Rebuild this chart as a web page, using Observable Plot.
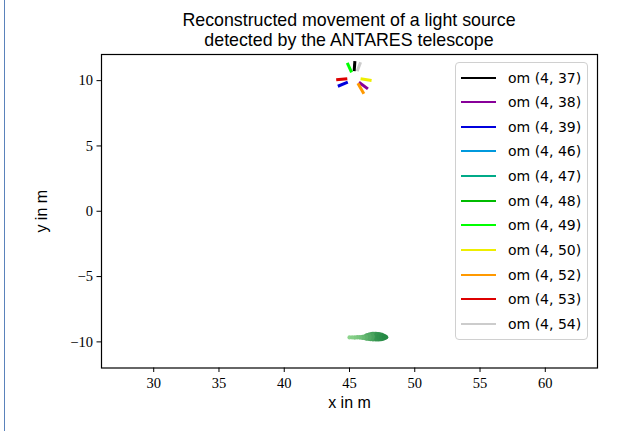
<!DOCTYPE html>
<html><head><meta charset="utf-8">
<script src="https://cdn.jsdelivr.net/npm/d3@7"></script>
<script src="https://cdn.jsdelivr.net/npm/@observablehq/plot@0.6"></script>
<style>
body{margin:0;background:#fff;}
#wrap{position:relative;width:623px;height:431px;overflow:hidden;}
#wrap svg{position:absolute;left:0;top:0;}
#wrap svg g[aria-label="x-axis tick label"] text,
#wrap svg g[aria-label="y-axis tick label"] text{font-family:"Liberation Serif",serif;font-size:14.5px;fill:#000;}
#wrap svg g[aria-label="x-axis label"] text,
#wrap svg g[aria-label="y-axis label"] text{font-family:"Liberation Sans",sans-serif;font-size:16px;fill:#000;}
.title{position:absolute;left:101px;width:496px;text-align:center;font-family:"Liberation Sans",sans-serif;font-size:17.8px;color:#000;line-height:20px;white-space:nowrap;}
.edge{position:absolute;left:3.5px;top:0;width:1.5px;height:431px;background:#5a82bb;}
.legend{position:absolute;left:455px;top:62px;width:133px;height:278px;border:1px solid #d0d0d0;border-radius:4px;background:rgba(255,255,255,0.85);box-sizing:border-box;}
.legend .sw{position:absolute;left:5px;width:35px;height:2px;}
.legend .lb{position:absolute;left:52px;font-family:"DejaVu Sans",sans-serif;font-size:14px;line-height:16px;color:#000;white-space:nowrap;}
</style></head><body><div id="wrap"></div><script>
// Series labels and colours (nipy_spectral samples)
const omLabels = ["om (4, 37)","om (4, 38)","om (4, 39)","om (4, 46)","om (4, 47)","om (4, 48)","om (4, 49)","om (4, 50)","om (4, 52)","om (4, 53)","om (4, 54)"];
const omColors = ["#000000","#880099","#0000dd","#0099dd","#00aa88","#00bb00","#00ff00","#eeee00","#ff9900","#dd0000","#cccccc"];
// Reconstructed direction segments per optical module (null = not visible)
const startX = [45.41, 45.72, 44.11, null, null, null, 44.83, 45.85, 45.64, 43.98, 45.85];
const startY = [11.49, 9.88, 9.57, null, null, null, 11.36, 10.14, 9.80, 10.06, 11.41];
const endX   = [45.36, 46.41, 44.87, null, null, null, 45.16, 46.69, 46.10, 44.83, 45.59];
const endY   = [10.72, 9.37, 9.88, null, null, null, 10.64, 10.01, 8.99, 10.14, 10.72];
// Light-source trail near the bottom
const trailX = [45.0, 45.2, 45.4, 45.6, 45.8, 46.0, 46.2, 46.4, 46.6, 46.8, 47.0, 47.2, 47.4, 47.55, 47.7, 47.82];
const trailY = [-9.66, -9.66, -9.66, -9.65, -9.65, -9.65, -9.64, -9.62, -9.6, -9.6, -9.6, -9.61, -9.62, -9.63, -9.64, -9.65];
const trailSize = [2.1, 2.1, 2.2, 2.3, 2.4, 2.6, 3.0, 3.9, 4.5, 4.8, 4.9, 4.8, 4.4, 3.6, 2.8, 2.0];
const trailShade = [0, 0.07, 0.14, 0.2, 0.27, 0.35, 0.45, 0.55, 0.65, 0.72, 0.8, 0.85, 0.9, 0.95, 1, 1];
// Axis ticks
const xTicks = [30, 35, 40, 45, 50, 55, 60];
const yTicks = [-10, -5, 0, 5, 10];

const segMarks = [];
omLabels.forEach((lab, i) => {
  if (startX[i] == null) return;
  const pts = [{x: startX[i], y: startY[i]}, {x: endX[i], y: endY[i]}];
  segMarks.push(Plot.line(pts, {x: "x", y: "y", stroke: omColors[i], strokeWidth: 3, strokeLinecap: "butt"}));
});
const trail = trailX.map((x, i) => ({x, y: trailY[i], r: trailSize[i], t: trailShade[i]}));

const chart = Plot.plot({
  width: 623, height: 431,
  marginLeft: 101, marginRight: 26, marginTop: 54, marginBottom: 63.5,
  style: {background: "transparent", overflow: "visible"},
  x: {domain: [26, 64]},
  y: {domain: [-12, 12]},
  r: {type: "identity"},
  color: {type: "linear", domain: [0, 1], range: ["#8cd48c", "#268a45"]},
  marks: [
    Plot.dot(trail, {x: "x", y: "y", r: "r", fill: "t", stroke: null}),
    ...segMarks,
    Plot.frame({stroke: "#000", strokeWidth: 1.2}),
    Plot.axisX({ticks: xTicks, tickSize: 4.5, tickPadding: 5, tickFormat: d => String(d), label: "x in m", labelAnchor: "center", labelArrow: "none", labelOffset: 40, stroke: "#000"}),
    Plot.axisY({ticks: yTicks, tickSize: 4.5, tickPadding: 4, tickFormat: d => d < 0 ? "\u2212" + Math.abs(d) : String(d), label: "y in m", labelAnchor: "center", labelArrow: "none", labelOffset: 66, stroke: "#000"})
  ]
});
const wrap = document.getElementById("wrap");
wrap.appendChild(chart);

const edge = document.createElement("div"); edge.className = "edge"; wrap.appendChild(edge);
const t1 = document.createElement("div"); t1.className = "title"; t1.style.top = "9.5px";
t1.textContent = "Reconstructed movement of a light source"; wrap.appendChild(t1);
const t2 = document.createElement("div"); t2.className = "title"; t2.style.top = "29.5px";
t2.textContent = "detected by the ANTARES telescope"; wrap.appendChild(t2);

const leg = document.createElement("div"); leg.className = "legend";
omLabels.forEach((lab, i) => {
  const cy = 14.5 + i * 24.65;
  const sw = document.createElement("div"); sw.className = "sw";
  sw.style.top = Math.round(cy - 1) + "px"; sw.style.background = omColors[i]; leg.appendChild(sw);
  const lb = document.createElement("div"); lb.className = "lb";
  lb.style.top = (cy - 8) + "px"; lb.textContent = lab; leg.appendChild(lb);
});
wrap.appendChild(leg);
</script></body></html>
